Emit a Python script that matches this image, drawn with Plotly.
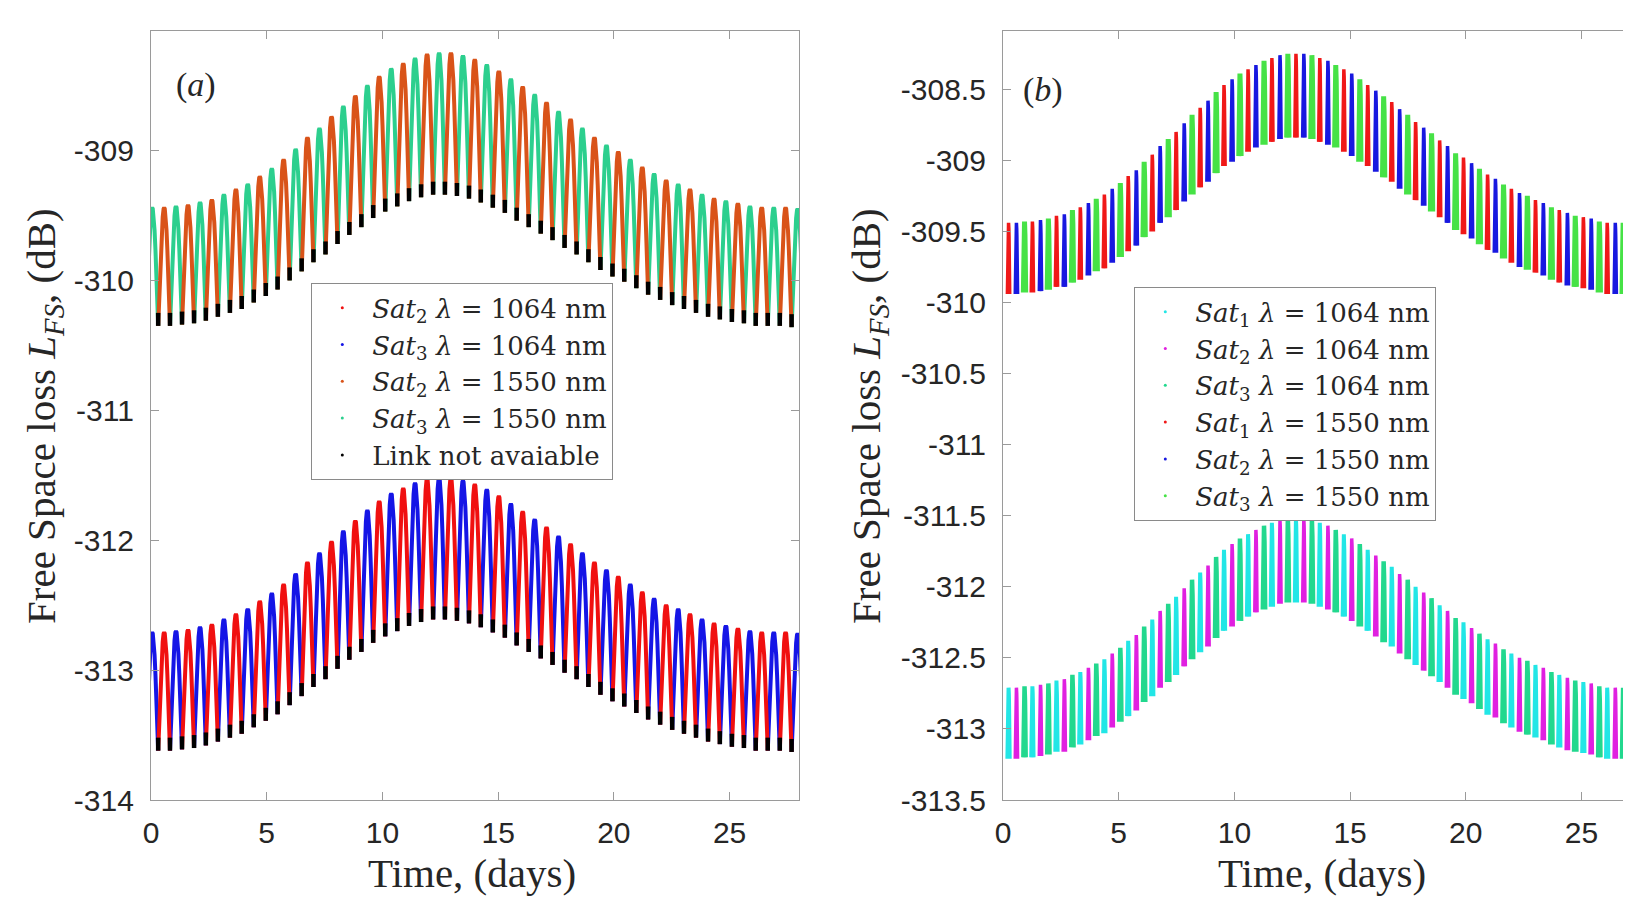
import plotly.graph_objects as go

# ---------------- Panel (a): two satellites, hump peaks / cusp troughs ----------
A_HUMP_DAYS = [0.05, 0.57, 1.08, 1.60, 2.12, 2.63, 3.15, 3.67, 4.18, 4.70,
               5.22, 5.73, 6.25, 6.76, 7.28, 7.80, 8.31, 8.83, 9.35, 9.86,
               10.38, 10.90, 11.41, 11.93, 12.45, 12.96, 13.48, 13.99, 14.51, 15.03,
               15.55, 16.06, 16.58, 17.09, 17.61, 18.13, 18.64, 19.16, 19.68, 20.19,
               20.71, 21.23, 21.74, 22.26, 22.78, 23.29, 23.81, 24.33, 24.84, 25.36,
               25.88, 26.39, 26.91, 27.42, 27.94]
A_TROUGH_DAYS = [-0.21, 0.31, 0.82, 1.34, 1.86, 2.37, 2.89, 3.41, 3.92, 4.44,
                 4.96, 5.47, 5.99, 6.51, 7.02, 7.54, 8.06, 8.57, 9.09, 9.60,
                 10.12, 10.64, 11.15, 11.67, 12.19, 12.70, 13.22, 13.74, 14.25, 14.77,
                 15.29, 15.80, 16.32, 16.84, 17.35, 17.87, 18.39, 18.90, 19.42, 19.94,
                 20.45, 20.97, 21.48, 22.00, 22.52, 23.03, 23.55, 24.07, 24.58, 25.10,
                 25.62, 26.13, 26.65, 27.17, 27.68, 28.20]
# even humps = Sat3, odd humps = Sat2
A_PEAK_1550 = [-309.44, -309.44, -309.43, -309.42, -309.40, -309.38, -309.34, -309.30, -309.26, -309.20,
               -309.14, -309.07, -308.99, -308.90, -308.83, -308.74, -308.66, -308.58, -308.50, -308.43,
               -308.37, -308.33, -308.29, -308.26, -308.25, -308.25, -308.27, -308.30, -308.34, -308.39,
               -308.45, -308.51, -308.57, -308.63, -308.70, -308.76, -308.83, -308.90, -308.96, -309.01,
               -309.07, -309.13, -309.18, -309.23, -309.26, -309.30, -309.34, -309.37, -309.39, -309.41,
               -309.43, -309.44, -309.44, -309.44, -309.45]
A_TROUGH_1550 = [-310.35, -310.35, -310.35, -310.34, -310.33, -310.31, -310.28, -310.25, -310.22, -310.17,
                 -310.12, -310.07, -310.00, -309.93, -309.86, -309.80, -309.72, -309.65, -309.59, -309.52,
                 -309.47, -309.43, -309.39, -309.36, -309.34, -309.34, -309.35, -309.37, -309.40, -309.44,
                 -309.48, -309.54, -309.59, -309.64, -309.69, -309.75, -309.80, -309.86, -309.92, -309.97,
                 -310.01, -310.06, -310.11, -310.15, -310.19, -310.22, -310.25, -310.28, -310.30, -310.32,
                 -310.33, -310.35, -310.35, -310.35, -310.36, -310.36]
A_PEAK_1064 = [-312.71, -312.71, -312.70, -312.69, -312.67, -312.65, -312.61, -312.57, -312.53, -312.47,
               -312.41, -312.34, -312.26, -312.17, -312.10, -312.01, -311.93, -311.85, -311.77, -311.70,
               -311.64, -311.60, -311.56, -311.53, -311.52, -311.52, -311.54, -311.57, -311.61, -311.66,
               -311.72, -311.78, -311.84, -311.90, -311.97, -312.03, -312.10, -312.17, -312.23, -312.28,
               -312.34, -312.40, -312.45, -312.50, -312.53, -312.57, -312.61, -312.64, -312.66, -312.68,
               -312.70, -312.71, -312.71, -312.71, -312.72]
A_TROUGH_1064 = [-313.62, -313.62, -313.62, -313.61, -313.60, -313.58, -313.55, -313.52, -313.49, -313.44,
                 -313.39, -313.34, -313.27, -313.20, -313.13, -313.07, -312.99, -312.92, -312.86, -312.79,
                 -312.74, -312.70, -312.66, -312.63, -312.61, -312.61, -312.62, -312.64, -312.67, -312.71,
                 -312.75, -312.81, -312.86, -312.91, -312.96, -313.02, -313.07, -313.13, -313.19, -313.24,
                 -313.28, -313.33, -313.38, -313.42, -313.46, -313.49, -313.52, -313.55, -313.57, -313.59,
                 -313.60, -313.62, -313.62, -313.62, -313.63, -313.63]
A_NO_LINK_DEPTH = 0.10  # dB of each cusp bottom where link is not available

# ---------------- Panel (b): three satellites, bar tops / bottoms ----------
B_BAR_DAYS = [0.24, 0.58, 0.93, 1.27, 1.62, 1.96, 2.31, 2.65, 3.00, 3.34,
              3.69, 4.03, 4.38, 4.72, 5.07, 5.41, 5.76, 6.10, 6.45, 6.79,
              7.14, 7.48, 7.83, 8.17, 8.52, 8.86, 9.21, 9.55, 9.90, 10.24,
              10.59, 10.93, 11.28, 11.62, 11.97, 12.31, 12.66, 13.00, 13.35, 13.69,
              14.04, 14.38, 14.73, 15.07, 15.42, 15.76, 16.11, 16.45, 16.80, 17.14,
              17.49, 17.83, 18.18, 18.52, 18.87, 19.21, 19.56, 19.90, 20.25, 20.59,
              20.94, 21.28, 21.63, 21.97, 22.32, 22.66, 23.01, 23.35, 23.70, 24.04,
              24.39, 24.73, 25.08, 25.42, 25.77, 26.11, 26.46, 26.80, 27.15, 27.49,
              27.84]
# bar index mod 3: 0 = Sat1, 1 = Sat2, 2 = Sat3
B_TOP_1550 = [-309.44, -309.44, -309.43, -309.43, -309.42, -309.41, -309.39, -309.38, -309.35, -309.33,
              -309.30, -309.27, -309.24, -309.20, -309.16, -309.11, -309.07, -309.01, -308.96, -308.90,
              -308.85, -308.80, -308.74, -308.68, -308.63, -308.58, -308.52, -308.47, -308.43, -308.39,
              -308.36, -308.33, -308.30, -308.28, -308.26, -308.25, -308.25, -308.25, -308.26, -308.28,
              -308.30, -308.33, -308.36, -308.39, -308.43, -308.47, -308.51, -308.55, -308.59, -308.64,
              -308.68, -308.73, -308.77, -308.81, -308.86, -308.90, -308.95, -308.98, -309.02, -309.06,
              -309.10, -309.13, -309.17, -309.20, -309.23, -309.25, -309.28, -309.30, -309.33, -309.35,
              -309.37, -309.39, -309.40, -309.41, -309.43, -309.44, -309.44, -309.44, -309.44, -309.44,
              -309.45]
B_BOT_1550 = [-309.94, -309.94, -309.93, -309.93, -309.92, -309.91, -309.89, -309.89, -309.86, -309.84,
              -309.81, -309.78, -309.76, -309.72, -309.68, -309.64, -309.60, -309.54, -309.50, -309.44,
              -309.40, -309.35, -309.29, -309.24, -309.19, -309.15, -309.09, -309.04, -309.01, -308.97,
              -308.94, -308.91, -308.89, -308.87, -308.85, -308.84, -308.84, -308.84, -308.85, -308.87,
              -308.89, -308.91, -308.94, -308.97, -309.01, -309.04, -309.08, -309.12, -309.15, -309.20,
              -309.24, -309.28, -309.32, -309.36, -309.40, -309.44, -309.49, -309.52, -309.55, -309.59,
              -309.63, -309.65, -309.69, -309.72, -309.75, -309.77, -309.79, -309.81, -309.84, -309.86,
              -309.88, -309.89, -309.90, -309.91, -309.93, -309.94, -309.94, -309.94, -309.94, -309.94,
              -309.95]
B_TOP_1064 = [-312.71, -312.71, -312.70, -312.70, -312.69, -312.68, -312.66, -312.65, -312.62, -312.60,
              -312.57, -312.54, -312.51, -312.47, -312.43, -312.38, -312.34, -312.28, -312.23, -312.17,
              -312.12, -312.07, -312.01, -311.95, -311.90, -311.85, -311.79, -311.74, -311.70, -311.66,
              -311.63, -311.60, -311.57, -311.55, -311.53, -311.52, -311.52, -311.52, -311.53, -311.55,
              -311.57, -311.60, -311.63, -311.66, -311.70, -311.74, -311.78, -311.82, -311.86, -311.91,
              -311.95, -312.00, -312.04, -312.08, -312.13, -312.17, -312.22, -312.25, -312.29, -312.33,
              -312.37, -312.40, -312.44, -312.47, -312.50, -312.52, -312.55, -312.57, -312.60, -312.62,
              -312.64, -312.66, -312.67, -312.68, -312.70, -312.71, -312.71, -312.71, -312.71, -312.71,
              -312.72]
B_BOT_1064 = [-313.21, -313.21, -313.20, -313.20, -313.19, -313.18, -313.16, -313.16, -313.13, -313.11,
              -313.08, -313.05, -313.03, -312.99, -312.95, -312.91, -312.87, -312.81, -312.77, -312.71,
              -312.67, -312.62, -312.56, -312.51, -312.46, -312.42, -312.36, -312.31, -312.28, -312.24,
              -312.21, -312.18, -312.16, -312.14, -312.12, -312.11, -312.11, -312.11, -312.12, -312.14,
              -312.16, -312.18, -312.21, -312.24, -312.28, -312.31, -312.35, -312.39, -312.42, -312.47,
              -312.51, -312.55, -312.59, -312.63, -312.67, -312.71, -312.76, -312.79, -312.82, -312.86,
              -312.90, -312.92, -312.96, -312.99, -313.02, -313.04, -313.06, -313.08, -313.11, -313.13,
              -313.15, -313.16, -313.17, -313.18, -313.20, -313.21, -313.21, -313.21, -313.21, -313.21,
              -313.22]

# shape of one hump: position (fraction of half-width) vs. height fraction
HUMP_U = [-1.0, -0.85, -0.7, -0.55, -0.4, -0.25, -0.1, 0.0, 0.1, 0.25, 0.4, 0.55, 0.7, 0.85, 1.0]
HUMP_V = [0.0, 0.23, 0.45, 0.64, 0.81, 0.92, 0.99, 1.0, 0.99, 0.92, 0.81, 0.64, 0.45, 0.23, 0.0]

# axis ticks
A_XTICKS = [0, 5, 10, 15, 20, 25]
A_YTICKS = [-314, -313, -312, -311, -310, -309]
A_YTICKTEXT = ["-314", "-313", "-312", "-311", "-310", "-309"]
B_YTICKS = [-313.5, -313, -312.5, -312, -311.5, -311, -310.5, -310, -309.5, -309, -308.5]
B_YTICKTEXT = ["-313.5", "-313", "-312.5", "-312", "-311.5", "-311", "-310.5", "-310", "-309.5", "-309", "-308.5"]

# the page body adds an 8 px margin, so the figure is drawn 8 px smaller and offset
PAGE_OFF = 8
W, H = 1631 - PAGE_OFF, 902 - PAGE_OFF
SERIF = "Liberation Serif, Times New Roman, serif"
LEG_SERIF = "DejaVu Serif, Liberation Serif, serif"
SANS = "Liberation Sans, Arial, sans-serif"
TXT = "#262626"


def hump_xy(tl, tp, tr, yl, yp, yr):
    xs, ys = [], []
    for u, v in zip(HUMP_U, HUMP_V):
        if u <= 0:
            xs.append(tp + u * (tp - tl))
            ys.append(yl + (yp - yl) * v)
        else:
            xs.append(tp + u * (tr - tp))
            ys.append(yr + (yp - yr) * v)
    xs.append(None)
    ys.append(None)
    return xs, ys


fig = go.Figure()

# ----- panel (a) -----
def add_a_group(peaks, troughs, colors, width):
    for parity, col in enumerate(colors):  # parity 0 -> Sat3, 1 -> Sat2
        xs, ys = [], []
        for k in range(parity, len(A_HUMP_DAYS), 2):
            hx, hy = hump_xy(A_TROUGH_DAYS[k], A_HUMP_DAYS[k], A_TROUGH_DAYS[k + 1],
                             troughs[k], peaks[k], troughs[k + 1])
            xs += hx
            ys += hy
        fig.add_trace(go.Scatter(x=xs, y=ys, mode="lines", line=dict(color=col, width=width),
                                 showlegend=False, hoverinfo="skip", xaxis="x", yaxis="y"))
    bx, by = [], []
    for td, tv in zip(A_TROUGH_DAYS, troughs):
        bx += [td, td, None]
        by += [tv, tv + A_NO_LINK_DEPTH, None]
    fig.add_trace(go.Scatter(x=bx, y=by, mode="lines", line=dict(color="black", width=4.5),
                             showlegend=False, hoverinfo="skip", xaxis="x", yaxis="y"))

C_A_S2_1550 = "#D95319"
C_A_S3_1550 = "#2CCF8E"
C_A_S2_1064 = "#F01010"
C_A_S3_1064 = "#1515E6"
add_a_group(A_PEAK_1550, A_TROUGH_1550, [C_A_S3_1550, C_A_S2_1550], 4)
add_a_group(A_PEAK_1064, A_TROUGH_1064, [C_A_S3_1064, C_A_S2_1064], 4)

# ----- panel (b) -----
BAR_HALF = 0.05

def add_b_group(tops, bots, colors, widths):
    for order in (2, 0, 1):
        xs, ys = [], []
        for j in range(order, len(B_BAR_DAYS), 3):
            t = B_BAR_DAYS[j]
            hx, hy = hump_xy(t - BAR_HALF, t, t + BAR_HALF, bots[j], tops[j], bots[j])
            xs += hx
            ys += hy
        fig.add_trace(go.Scatter(x=xs, y=ys, mode="lines",
                                 line=dict(color=colors[order], width=widths[order]),
                                 showlegend=False, hoverinfo="skip", xaxis="x2", yaxis="y2"))

C_B_S1_1550, C_B_S2_1550, C_B_S3_1550 = "#F01818", "#1818E0", "#46E246"
C_B_S1_1064, C_B_S2_1064, C_B_S3_1064 = "#22E6E6", "#E020E0", "#22D88E"
add_b_group(B_TOP_1550, B_BOT_1550, [C_B_S1_1550, C_B_S2_1550, C_B_S3_1550], [3.5, 3.5, 5])
add_b_group(B_TOP_1064, B_BOT_1064, [C_B_S1_1064, C_B_S2_1064, C_B_S3_1064], [4, 3.5, 4.5])

# ----- legend entries (dot markers as in the original) -----
def legend_dot(name, color, legend):
    fig.add_trace(go.Scatter(x=[None], y=[None], mode="markers", name=name,
                             marker=dict(color=color, size=3), legend=legend,
                             xaxis="x" if legend == "legend" else "x2",
                             yaxis="y" if legend == "legend" else "y2"))

def sat_label(n, lam):
    return f"<i>Sat</i><sub>{n}</sub> <i>λ</i> = {lam} nm"

legend_dot(sat_label(2, 1064), C_A_S2_1064, "legend")
legend_dot(sat_label(3, 1064), C_A_S3_1064, "legend")
legend_dot(sat_label(2, 1550), C_A_S2_1550, "legend")
legend_dot(sat_label(3, 1550), C_A_S3_1550, "legend")
legend_dot("Link not avaiable", "black", "legend")

legend_dot(sat_label(1, 1064), C_B_S1_1064, "legend2")
legend_dot(sat_label(2, 1064), C_B_S2_1064, "legend2")
legend_dot(sat_label(3, 1064), C_B_S3_1064, "legend2")
legend_dot(sat_label(1, 1550), C_B_S1_1550, "legend2")
legend_dot(sat_label(2, 1550), C_B_S2_1550, "legend2")
legend_dot(sat_label(3, 1550), C_B_S3_1550, "legend2")

# ----- layout (positions given in page pixels) -----
def px_x(p):
    return (p - PAGE_OFF) / W

def px_y(p):
    return 1 - (p - PAGE_OFF) / H

axis_common = dict(showline=True, linecolor="#9a9a9a", linewidth=1.3, ticks="inside",
                   ticklen=8, tickcolor="#9a9a9a", tickwidth=1.2, showgrid=False,
                   zeroline=False, automargin=False,
                   tickfont=dict(family=SANS, size=30, color=TXT))

legend_common = dict(bgcolor="white", bordercolor="#8a8a8a", borderwidth=1.3,
                     font=dict(family=LEG_SERIF, size=26, color=TXT), xanchor="left",
                     yanchor="top", itemsizing="trace", tracegroupgap=0, itemwidth=50)

fig.update_layout(
    width=W, height=H, margin=dict(l=0, r=0, t=0, b=0, autoexpand=False),
    paper_bgcolor="white", plot_bgcolor="white",
    xaxis=dict(domain=[px_x(151), px_x(799)], range=[0, 28], tickvals=A_XTICKS,
               anchor="y", mirror="ticks", ticklabelstandoff=6, **axis_common),
    yaxis=dict(domain=[px_y(800), px_y(31)], range=[-314, -308.08], tickvals=A_YTICKS,
               ticktext=A_YTICKTEXT, anchor="x", mirror="ticks", ticklabelstandoff=10, **axis_common),
    xaxis2=dict(domain=[px_x(1003), 1.0], range=[0, 27.14], tickvals=A_XTICKS,
                anchor="y2", mirror="ticks", ticklabelstandoff=6, **axis_common),
    yaxis2=dict(domain=[px_y(800), px_y(31)], range=[-313.5, -308.09], tickvals=B_YTICKS,
                ticktext=B_YTICKTEXT, anchor="x2", mirror=False, ticklabelstandoff=10, **axis_common),
    legend=dict(x=px_x(311), y=px_y(283), **legend_common),
    legend2=dict(x=px_x(1134), y=px_y(287), **legend_common),
    showlegend=True,
)

annos = [
    dict(text="(<i>a</i>)", x=px_x(196), y=px_y(85), size=34),
    dict(text="(<i>b</i>)", x=px_x(1043), y=px_y(90), size=34),
    dict(text="Time, (days)", x=px_x(472), y=px_y(873), size=41),
    dict(text="Time, (days)", x=px_x(1322), y=px_y(873), size=41),
    dict(text="Free Space loss <i>L</i><sub><i>FS</i></sub>, (dB)", x=px_x(44), y=px_y(416),
         size=41, angle=-90),
    dict(text="Free Space loss <i>L</i><sub><i>FS</i></sub>, (dB)", x=px_x(869), y=px_y(416),
         size=41, angle=-90),
]
for a in annos:
    fig.add_annotation(text=a["text"], x=a["x"], y=a["y"], xref="paper", yref="paper",
                       showarrow=False, xanchor="center", yanchor="middle",
                       textangle=a.get("angle", 0),
                       font=dict(family=SERIF, size=a.get("size", 30), color=TXT))

fig.write_html("out.html")
